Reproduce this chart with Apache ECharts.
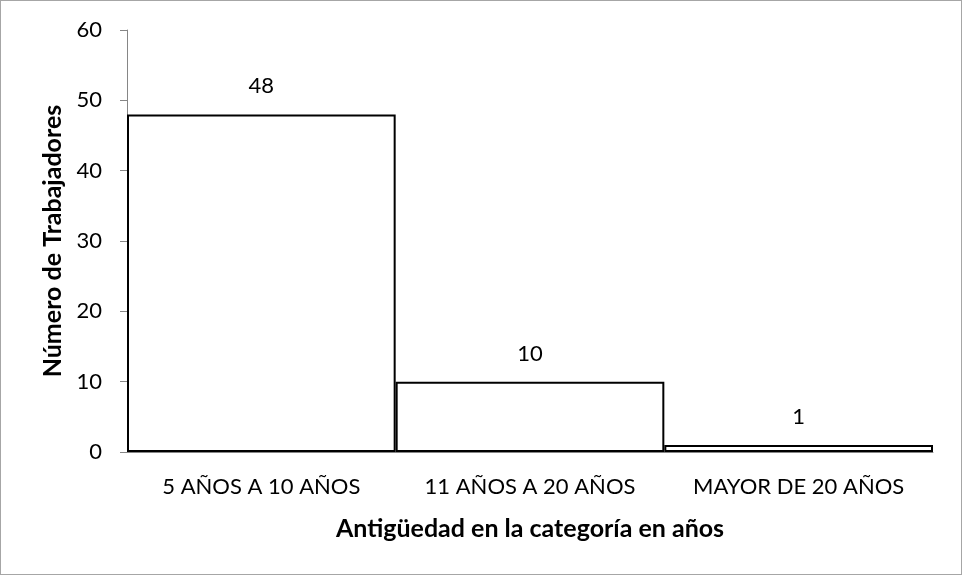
<!DOCTYPE html>
<html>
<head>
<meta charset="utf-8">
<script src="https://cdn.jsdelivr.net/npm/echarts@6/dist/echarts.min.js"></script>
<style>
  html, body { margin: 0; padding: 0; background: #fff; }
  #chart { width: 962px; height: 575px; box-sizing: border-box; border: 1px solid #a6a6a6; }
</style>
</head>
<body>
<div id="chart"></div>
<script>
// Workers by seniority band
const categories = ['5 AÑOS A 10 AÑOS', '11 AÑOS A 20 AÑOS', 'MAYOR DE 20 AÑOS'];
const workers = [48, 10, 1];
const yTicks = { min: 0, max: 60, interval: 10 };

const fontFamily = 'Lato, "Open Sans", "Noto Sans", sans-serif';

const chart = echarts.init(document.getElementById('chart'), null, { renderer: 'canvas' });
chart.setOption({
  animation: false,
  backgroundColor: '#ffffff',
  grid: { left: 126, right: 28, top: 29, bottom: 122, containLabel: false },
  xAxis: {
    type: 'category',
    data: categories,
    name: 'Antigüedad en la categoría en años',
    nameLocation: 'middle',
    nameGap: 64,
    nameTextStyle: { fontFamily, fontSize: 25, fontWeight: 'bold', color: '#000' },
    axisLine: { lineStyle: { color: '#868686', width: 1 } },
    axisTick: { show: false },
    axisLabel: { interval: 0, fontFamily, fontSize: 22, color: '#000', margin: 24 },
    splitLine: { show: false }
  },
  yAxis: {
    type: 'value',
    min: yTicks.min,
    max: yTicks.max,
    interval: yTicks.interval,
    name: 'Número de Trabajadores',
    nameLocation: 'middle',
    nameGap: 50,
    nameTextStyle: { fontFamily, fontSize: 25, fontWeight: 'bold', color: '#000' },
    axisLine: { show: true, lineStyle: { color: '#868686', width: 1 } },
    axisTick: { show: true, length: 7, lineStyle: { color: '#868686' } },
    axisLabel: { fontFamily, fontSize: 22, color: '#000', margin: 25 },
    splitLine: { show: false }
  },
  series: [{
    type: 'bar',
    data: workers,
    barCategoryGap: '0%',
    itemStyle: { color: '#ffffff', borderColor: '#000000', borderWidth: 2 },
    label: {
      show: true,
      position: 'top',
      distance: 17,
      fontFamily,
      fontSize: 22,
      color: '#000'
    }
  }]
});
</script>
</body>
</html>
